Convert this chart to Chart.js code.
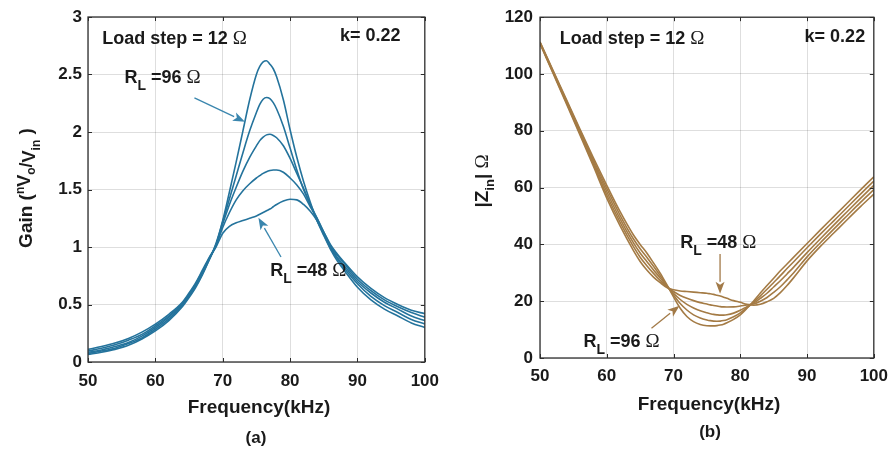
<!DOCTYPE html>
<html>
<head>
<meta charset="utf-8">
<script src="https://cdn.jsdelivr.net/npm/chart.js@4/dist/chart.umd.min.js"></script>
<style>
  html, body { margin: 0; padding: 0; background: #ffffff; }
  #wrap { position: relative; width: 896px; height: 451px; }
  .pane { position: absolute; top: 0; width: 448px; height: 451px; }
</style>
</head>
<body>
<div id="wrap">
  <div class="pane" style="left:0"><canvas id="gainChart" width="448" height="451"></canvas></div>
  <div class="pane" style="left:448px"><canvas id="zinChart" width="448" height="451"></canvas></div>
</div>
<script>
// Frequency samples (kHz), shared by every curve
const freq = [50, 52, 54, 56, 58, 60, 62, 64, 65, 66, 67, 68, 69, 70, 71, 72, 73, 74, 75, 75.5,
  76, 76.5, 77, 77.5, 78, 79, 80, 81, 82, 83, 84, 85, 86, 87, 88, 90, 92, 94, 96, 98, 100];

// Load resistances (ohm), 12 ohm steps
const loads = [96, 84, 72, 60, 48];

// Voltage gain nVo/Vin for each load
const gainRL96 = [0.065, 0.085, 0.11, 0.145, 0.20, 0.27, 0.36, 0.48, 0.56, 0.65, 0.76, 0.89, 1.03, 1.23, 1.48, 1.74, 2.01, 2.28, 2.50, 2.57,
  2.61, 2.62, 2.59, 2.55, 2.48, 2.28, 2.02, 1.78, 1.57, 1.39, 1.23, 1.10, 0.98, 0.88, 0.80, 0.65, 0.54, 0.46, 0.40, 0.34, 0.30];
const gainRL84 = [0.075, 0.095, 0.12, 0.16, 0.21, 0.285, 0.375, 0.49, 0.57, 0.66, 0.77, 0.89, 1.02, 1.22, 1.42, 1.62, 1.82, 2.01, 2.17, 2.24,
  2.285, 2.30, 2.29, 2.255, 2.20, 2.05, 1.86, 1.67, 1.50, 1.37, 1.23, 1.11, 0.99, 0.90, 0.82, 0.68, 0.57, 0.49, 0.43, 0.37, 0.33];
const gainRL72 = [0.085, 0.105, 0.135, 0.17, 0.225, 0.30, 0.39, 0.50, 0.58, 0.67, 0.78, 0.90, 1.02, 1.20, 1.37, 1.52, 1.66, 1.78, 1.88, 1.925,
  1.955, 1.975, 1.98, 1.97, 1.95, 1.88, 1.77, 1.64, 1.51, 1.37, 1.25, 1.12, 1.00, 0.91, 0.84, 0.70, 0.60, 0.52, 0.46, 0.40, 0.36];
const gainRL60 = [0.095, 0.12, 0.15, 0.19, 0.24, 0.315, 0.40, 0.51, 0.59, 0.68, 0.79, 0.90, 1.01, 1.17, 1.30, 1.41, 1.49, 1.55, 1.60, 1.62,
  1.64, 1.655, 1.665, 1.67, 1.67, 1.65, 1.60, 1.54, 1.46, 1.35, 1.25, 1.13, 1.01, 0.93, 0.86, 0.72, 0.62, 0.54, 0.48, 0.43, 0.39];
const gainRL48 = [0.11, 0.135, 0.165, 0.205, 0.26, 0.33, 0.415, 0.52, 0.60, 0.69, 0.80, 0.91, 1.00, 1.12, 1.18, 1.21, 1.23, 1.25, 1.27, 1.285,
  1.30, 1.315, 1.33, 1.35, 1.37, 1.40, 1.415, 1.41, 1.37, 1.31, 1.23, 1.13, 1.02, 0.94, 0.87, 0.74, 0.64, 0.56, 0.50, 0.45, 0.42];

// Input impedance magnitude |Zin| (ohm) for each load
const zinRL96 = [111.3, 101.0, 90.8, 80.5, 70.5, 60.8, 51.5, 43.3, 40.0, 37.0, 33.5, 29.9, 25.8, 21.5, 17.5, 14.6, 12.8, 11.8, 11.35, 11.3,
  11.3, 11.4, 11.6, 11.9, 12.4, 13.6, 15.2, 17.5, 20.1, 22.9, 25.5, 28.1, 30.7, 33.1, 35.5, 40.3, 45.1, 49.8, 54.5, 59.2, 63.8];
const zinRL84 = [111.15, 100.75, 90.4, 80.0, 69.75, 59.7, 50.25, 41.9, 38.5, 35.5, 32.3, 29.0, 25.5, 22.2, 19.2, 16.9, 15.2, 14.1, 13.4, 13.15,
  13.0, 12.95, 13.0, 13.2, 13.5, 14.5, 15.9, 17.7, 19.7, 21.9, 24.2, 26.6, 29.0, 31.5, 33.9, 38.8, 43.6, 48.3, 53.0, 57.7, 62.3];
const zinRL72 = [111.0, 100.5, 90.05, 79.5, 69.0, 58.55, 49.0, 40.55, 37.0, 34.0, 31.0, 28.2, 25.3, 22.8, 20.6, 18.9, 17.6, 16.6, 15.9, 15.6,
  15.35, 15.2, 15.1, 15.1, 15.2, 15.8, 16.8, 18.1, 19.3, 21.0, 22.8, 25.0, 27.2, 29.6, 32.0, 37.1, 42.0, 46.8, 51.5, 56.2, 60.8];
const zinRL60 = [110.85, 100.25, 89.7, 79.0, 68.25, 57.4, 47.75, 39.2, 35.5, 32.5, 29.8, 27.3, 25.0, 23.4, 22.0, 21.0, 20.2, 19.5, 19.0, 18.7,
  18.5, 18.3, 18.1, 18.0, 17.95, 18.0, 18.3, 18.7, 19.0, 20.0, 21.3, 23.1, 25.1, 27.5, 30.0, 35.6, 40.6, 45.4, 50.1, 54.8, 59.3];
const zinRL48 = [110.7, 100.0, 89.3, 78.5, 67.5, 56.3, 46.5, 37.8, 34.0, 31.0, 28.5, 26.5, 24.8, 24.0, 23.6, 23.4, 23.2, 23.0, 22.8, 22.6,
  22.4, 22.1, 21.8, 21.4, 21.0, 20.2, 19.6, 18.9, 18.6, 18.9, 19.8, 21.0, 23.0, 25.5, 28.3, 34.2, 39.3, 44.0, 48.7, 53.3, 57.7];

// Axis tick values and their printed labels
const freqTicks = [50, 60, 70, 80, 90, 100];
const gainTicks = [0, 0.5, 1, 1.5, 2, 2.5, 3];
const gainTickLabels = ['0', '0.5', '1', '1.5', '2', '2.5', '3'];
const zinTicks = [0, 20, 40, 60, 80, 100, 120];
const zinTickLabels = ['0', '20', '40', '60', '80', '100', '120'];
const freqTickLabels = ['50', '60', '70', '80', '90', '100'];

const SANS = "'Liberation Sans', Arial, Helvetica, sans-serif";
const SERIF = "'Liberation Serif', 'Times New Roman', serif";
const INK = '#1a1a1a';
const GAIN_COLOR = '#24739c';
const ZIN_COLOR = '#a47b45';

function segFont(s) {
  return (s.weight || 'bold') + ' ' + s.size + 'px ' + (s.fam || SANS);
}
function richWidth(ctx, segs) {
  let w = 0;
  for (const s of segs) { ctx.font = segFont(s); w += ctx.measureText(s.t).width; }
  return w;
}
function drawRich(ctx, segs, x, y, align) {
  const w = richWidth(ctx, segs);
  let cx = align === 'center' ? x - w / 2 : (align === 'right' ? x - w : x);
  ctx.textAlign = 'left';
  ctx.textBaseline = 'alphabetic';
  for (const s of segs) {
    ctx.font = segFont(s);
    ctx.fillText(s.t, cx, y + (s.dy || 0));
    cx += ctx.measureText(s.t).width;
  }
}
function drawArrow(ctx, x1, y1, x2, y2, color) {
  const ang = Math.atan2(y2 - y1, x2 - x1);
  const len = 12, half = 4.5;
  const bx = x2 - len * Math.cos(ang), by = y2 - len * Math.sin(ang);
  ctx.save();
  ctx.strokeStyle = color; ctx.fillStyle = color; ctx.lineWidth = 1.3;
  ctx.beginPath(); ctx.moveTo(x1, y1); ctx.lineTo(bx, by); ctx.stroke();
  ctx.beginPath();
  ctx.moveTo(x2, y2);
  ctx.lineTo(bx + half * Math.sin(ang), by - half * Math.cos(ang));
  ctx.lineTo(bx + 3 * Math.cos(ang), by + 3 * Math.sin(ang));
  ctx.lineTo(bx - half * Math.sin(ang), by + half * Math.cos(ang));
  ctx.closePath(); ctx.fill();
  ctx.restore();
}

// Box, inward tick marks, annotations and axis titles
const panelDecor = {
  id: 'panelDecor',
  afterDatasetsDraw(chart, args, opts) {
    const ctx = chart.ctx;
    const a = chart.chartArea;
    const xs = chart.scales.x, ys = chart.scales.y;
    ctx.save();
    // inward ticks on all four sides
    ctx.strokeStyle = '#2b2b2b'; ctx.lineWidth = 1;
    const tl = 4;
    for (const v of opts.xTicks) {
      const px = Math.round(xs.getPixelForValue(v)) + 0.5;
      ctx.beginPath(); ctx.moveTo(px, a.bottom); ctx.lineTo(px, a.bottom - tl);
      ctx.moveTo(px, a.top); ctx.lineTo(px, a.top + tl); ctx.stroke();
    }
    for (const v of opts.yTicks) {
      const py = Math.round(ys.getPixelForValue(v)) + 0.5;
      ctx.beginPath(); ctx.moveTo(a.left, py); ctx.lineTo(a.left + tl, py);
      ctx.moveTo(a.right, py); ctx.lineTo(a.right - tl, py); ctx.stroke();
    }
    // axes box
    ctx.strokeStyle = '#303030'; ctx.lineWidth = 1.3;
    ctx.strokeRect(a.left, a.top, a.right - a.left, a.bottom - a.top);

    // text annotations
    ctx.fillStyle = INK;
    for (const lb of opts.labels) {
      drawRich(ctx, lb.segs, xs.getPixelForValue(lb.x), ys.getPixelForValue(lb.y), lb.align || 'left');
    }
    for (const ar of opts.arrows) {
      drawArrow(ctx, xs.getPixelForValue(ar.from[0]), ys.getPixelForValue(ar.from[1]),
        xs.getPixelForValue(ar.to[0]), ys.getPixelForValue(ar.to[1]), opts.arrowColor);
    }
    // axis titles and caption
    ctx.fillStyle = INK;
    drawRich(ctx, opts.xTitle.segs, opts.xTitle.x, opts.xTitle.y, 'center');
    drawRich(ctx, opts.caption.segs, opts.caption.x, opts.caption.y, 'center');
    ctx.save();
    ctx.translate(opts.yTitle.x, opts.yTitle.y);
    ctx.rotate(-Math.PI / 2);
    drawRich(ctx, opts.yTitle.segs, 0, 0, 'center');
    ctx.restore();
    ctx.restore();
  }
};

function toPoints(vals) { return freq.map((f, i) => ({ x: f, y: vals[i] })); }

function makeSets(series, color) {
  return series.map((vals, i) => ({
    label: 'RL=' + loads[i] + ' Ω',
    data: toPoints(vals),
    borderColor: color,
    borderWidth: 1.6,
    pointRadius: 0,
    fill: false,
    cubicInterpolationMode: 'monotone'
  }));
}

function labelFor(values, labels) {
  return v => {
    const i = values.findIndex(t => Math.abs(t - v) < 1e-9);
    return i >= 0 ? labels[i] : '';
  };
}

function makeChart(id, sets, yMin, yMax, yTicks, yLabels, yAxisW, xAxisH, padR, padT, xPad, yPad, decor) {
  return new Chart(document.getElementById(id), {
    type: 'line',
    data: { datasets: sets },
    options: {
      responsive: false,
      devicePixelRatio: 1,
      animation: false,
      events: [],
      layout: { padding: { left: 0, right: padR, top: padT, bottom: 0 } },
      plugins: { legend: { display: false }, tooltip: { enabled: false }, panelDecor: decor },
      scales: {
        x: {
          type: 'linear', min: 50, max: 100,
          afterFit: s => { s.height = xAxisH; },
          afterBuildTicks: s => { s.ticks = freqTicks.map(v => ({ value: v })); },
          ticks: { autoSkip: false, maxRotation: 0, padding: xPad, color: INK,
                   callback: labelFor(freqTicks, freqTickLabels),
                   font: { family: SANS, size: 17, weight: 'bold' } },
          grid: { color: 'rgba(0,0,0,0.13)', lineWidth: 1, drawTicks: false },
          border: { display: false }
        },
        y: {
          type: 'linear', min: yMin, max: yMax,
          afterFit: s => { s.width = yAxisW; },
          afterBuildTicks: s => { s.ticks = yTicks.map(v => ({ value: v })); },
          ticks: { autoSkip: false, padding: yPad, color: INK,
                   callback: labelFor(yTicks, yLabels),
                   font: { family: SANS, size: 17, weight: 'bold' } },
          grid: { color: 'rgba(0,0,0,0.13)', lineWidth: 1, drawTicks: false },
          border: { display: false }
        }
      }
    },
    plugins: [panelDecor]
  });
}

const omega = (size) => ({ t: 'Ω', size: size, weight: 'normal', fam: SERIF });
const rl = (val) => [
  { t: 'R', size: 18 }, { t: 'L', size: 14, dy: 7 }, { t: ' =' + val + ' ', size: 18 }, omega(19)
];

// (a) voltage gain
makeChart('gainChart',
  makeSets([gainRL96, gainRL84, gainRL72, gainRL60, gainRL48], GAIN_COLOR),
  0, 3, gainTicks, gainTickLabels, 88, 89, 18, 17, 9, 6,
  {
    xTicks: freqTicks, yTicks: gainTicks,
    arrowColor: '#3a86ae',
    labels: [
      { x: 52.1, y: 2.765, segs: [{ t: 'Load step = 12 ', size: 18 }, omega(19)] },
      { x: 96.4, y: 2.79, align: 'right', segs: [{ t: 'k= 0.22', size: 18 }] },
      { x: 55.4, y: 2.425, segs: rl(96) },
      { x: 77.05, y: 0.745, segs: rl(48) }
    ],
    arrows: [
      { from: [65.8, 2.296], to: [73.3, 2.09] },
      { from: [78.65, 0.913], to: [75.3, 1.255] }
    ],
    xTitle: { x: 259, y: 413, segs: [{ t: 'Frequency(kHz)', size: 19 }] },
    caption: { x: 256, y: 443, segs: [{ t: '(a)', size: 17 }] },
    yTitle: { x: 32, y: 188, segs: [
      { t: 'Gain (', size: 19 }, { t: 'n', size: 12, dy: -8 }, { t: 'V', size: 18, dy: -2 },
      { t: 'o', size: 12, dy: 3 }, { t: '/', size: 18 }, { t: 'V', size: 18, dy: 3 },
      { t: 'in', size: 12, dy: 8 }, { t: ' )', size: 19 }
    ] }
  });

// (b) input impedance
makeChart('zinChart',
  makeSets([zinRL96, zinRL84, zinRL72, zinRL60, zinRL48], ZIN_COLOR),
  0, 120, zinTicks, zinTickLabels, 92, 93, 18, 14, 8, 7,
  {
    xTicks: freqTicks, yTicks: zinTicks,
    arrowColor: '#a27a48',
    labels: [
      { x: 52.96, y: 110.7, segs: [{ t: 'Load step = 12 ', size: 18 }, omega(19)] },
      { x: 98.7, y: 111.2, align: 'right', segs: [{ t: 'k= 0.22', size: 18 }] },
      { x: 71.0, y: 38.8, segs: rl(48) },
      { x: 56.5, y: 3.9, segs: rl(96) }
    ],
    arrows: [
      { from: [76.97, 36.6], to: [76.97, 22.6] },
      { from: [66.7, 10.5], to: [70.9, 18.4] }
    ],
    xTitle: { x: 261, y: 410, segs: [{ t: 'Frequency(kHz)', size: 19 }] },
    caption: { x: 262, y: 437, segs: [{ t: '(b)', size: 17 }] },
    yTitle: { x: 40, y: 181, segs: [
      { t: '|Z', size: 19 }, { t: 'in', size: 13, dy: 6 }, { t: '| ', size: 19 }, omega(19)
    ] }
  });
</script>
</body>
</html>
